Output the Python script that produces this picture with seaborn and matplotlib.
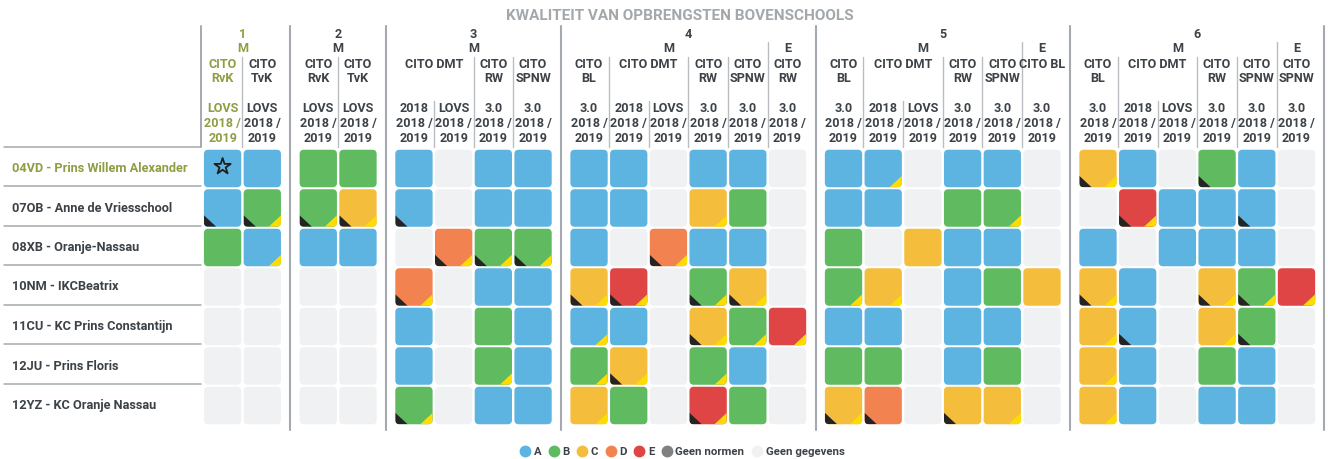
import matplotlib
matplotlib.use("Agg")
import matplotlib.pyplot as plt
import seaborn as sns
import pandas as pd
from matplotlib.patches import FancyBboxPatch, Polygon
from matplotlib.lines import Line2D

# ---------------- data ----------------
title = "KWALITEIT VAN OPBRENGSTEN BOVENSCHOOLS"
schools = ["04VD - Prins Willem Alexander", "07OB - Anne de Vriesschool", "08XB - Oranje-Nassau",
           "10NM - IKCBeatrix", "11CU - KC Prins Constantijn", "12JU - Prins Floris",
           "12YZ - KC Oranje Nassau"]

col_group = [1, 1, 2, 2, 3, 3, 3, 3, 4, 4, 4, 4, 4, 4, 5, 5, 5, 5, 5, 5, 6, 6, 6, 6, 6, 6]
col_level = ["M", "M", "M", "M", "M", "M", "M", "M", "M", "M", "M", "M", "M", "E",
             "M", "M", "M", "M", "M", "E", "M", "M", "M", "M", "M", "E"]
col_test = ["CITO\nRvK", "CITO\nTvK", "CITO\nRvK", "CITO\nTvK",
            "CITO DMT", "CITO DMT", "CITO\nRW", "CITO\nSPNW",
            "CITO\nBL", "CITO DMT", "CITO DMT", "CITO\nRW", "CITO\nSPNW", "CITO\nRW",
            "CITO\nBL", "CITO DMT", "CITO DMT", "CITO\nRW", "CITO\nSPNW", "CITO BL",
            "CITO\nBL", "CITO DMT", "CITO DMT", "CITO\nRW", "CITO\nSPNW", "CITO\nSPNW"]
col_version = ["LOVS", "LOVS", "LOVS", "LOVS", "2018", "LOVS", "3.0", "3.0",
               "3.0", "2018", "LOVS", "3.0", "3.0", "3.0",
               "3.0", "2018", "LOVS", "3.0", "3.0", "3.0",
               "3.0", "2018", "LOVS", "3.0", "3.0", "3.0"]
period = "2018 /\n2019"

# score code per cell: letter (A-E) or '-' = geen gegevens; 'k' = black corner, 'y' = yellow corner, '*' = star
scores = [
    ["A*", "A", "B", "B", "A", "-", "A", "A", "A", "A", "-", "A", "A", "-",
     "A", "Ay", "-", "A", "A", "-", "Cky", "A", "-", "Bk", "A", "-"],
    ["Ak", "Bky", "Bky", "Cky", "Ak", "-", "A", "A", "A", "A", "-", "Cy", "B", "-",
     "A", "A", "-", "B", "By", "-", "-", "Eky", "A", "A", "Ak", "-"],
    ["B", "Ay", "A", "A", "-", "Dky", "Bky", "Bky", "A", "-", "Dky", "A", "A", "-",
     "B", "-", "C", "A", "A", "-", "A", "-", "A", "A", "A", "-"],
    ["-", "-", "-", "-", "Dky", "-", "A", "A", "Cky", "Eky", "-", "Bky", "Cky", "-",
     "By", "Cy", "-", "A", "B", "C", "Cky", "A", "-", "Cky", "Bky", "Ey"],
    ["-", "-", "-", "-", "A", "-", "B", "A", "Ay", "A", "-", "Cky", "By", "Ey",
     "A", "A", "-", "A", "A", "-", "Cy", "Ak", "-", "Cy", "Bk", "-"],
    ["-", "-", "-", "-", "A", "-", "By", "A", "By", "Cky", "-", "By", "A", "-",
     "B", "B", "-", "A", "B", "-", "Cy", "A", "-", "B", "A", "-"],
    ["-", "-", "-", "-", "Bky", "-", "A", "A", "Cy", "B", "-", "Eky", "B", "-",
     "Cky", "Dk", "-", "Ck", "Cy", "-", "Cy", "A", "-", "A", "A", "-"],
]

legend_labels = ["A", "B", "C", "D", "E", "Geen normen", "Geen gegevens"]
legend_keys = ["A", "B", "C", "D", "E", "N", "-"]

# ---------------- styling ----------------
palette = {"A": "#5db4e0", "B": "#5fba60", "C": "#f4be3c", "D": "#f28350",
           "E": "#e04545", "N": "#808080", "-": "#f0f1f3"}
dark = "#3c4247"
olive = "#8e9e42"
sep_col = "#a3a9ae"
sub_col = "#b9bdc1"

sns.set_theme(style="white")
plt.rcParams["font.family"] = ["Roboto", "DejaVu Sans"]

W, H = 1328, 459
fig = plt.figure(figsize=(W / 100, H / 100), dpi=100)
ax = fig.add_axes([0, 0, 1, 1])

# pixel <-> data mapping (layout)
PX0, PXS = 222.6, 39.7
PY0, PYS = 168.5, 39.5
def px2x(p):
    return 0.5 + (p - PX0) / PXS
def py2y(p):
    return 0.5 + (p - PY0) / PYS

ax.set_xlim(px2x(0), px2x(W))
ax.set_ylim(py2y(H), py2y(0))
ax.axis("off")

GAP = 0.41
groups_order = sorted(set(col_group))
xl = [c + GAP * groups_order.index(g) for c, g in enumerate(col_group)]
ncol = len(col_group)

# ---------------- cells ----------------
CW, CH, RAD = 0.94, 0.95, 0.11
TX, TY = 0.31, 0.29
star_x, star_y = [], []
for r, row in enumerate(scores):
    for c, code in enumerate(row):
        x0 = xl[c] + (1 - CW) / 2
        y0 = r + (1 - CH) / 2
        patch = FancyBboxPatch((x0, y0), CW, CH,
                               boxstyle=f"round,pad=0,rounding_size={RAD}",
                               facecolor=palette[code[0]], edgecolor="none", zorder=2)
        ax.add_patch(patch)
        yb = y0 + CH
        if "k" in code:
            tri = Polygon([(x0, yb), (x0, yb - TY), (x0 + TX, yb)], closed=True,
                          facecolor="#242424", edgecolor="none", zorder=3)
            ax.add_patch(tri)
            tri.set_clip_path(patch)
        if "y" in code:
            tri = Polygon([(x0 + CW, yb), (x0 + CW, yb - TY), (x0 + CW - TX, yb)], closed=True,
                          facecolor="#fddc00", edgecolor="none", zorder=3)
            ax.add_patch(tri)
            tri.set_clip_path(patch)
        if "*" in code:
            star_x.append(xl[c] + 0.5)
            star_y.append(r + 0.45)

sns.scatterplot(x=star_x, y=star_y, marker="*", s=150, facecolor="none",
                edgecolor="#1e1e1e", linewidth=1.3, ax=ax, zorder=4, legend=False)

# ---------------- row labels ----------------
for r, name in enumerate(schools):
    ax.text(px2x(12), r + 0.5, name, ha="left", va="center", fontsize=9.2,
            fontweight="bold", color=olive if r == 0 else dark)
lx0, lx1 = px2x(4), px2x(201)
ax.plot([lx0, lx1], [py2y(147)] * 2, color=sep_col, lw=1.1)
for r in range(1, len(schools)):
    ax.plot([lx0, lx1], [r - 0.05] * 2, color=sep_col, lw=1.1)

# ---------------- header ----------------
def spans(keys):
    out = []
    start = 0
    for i in range(1, len(keys) + 1):
        if i == len(keys) or keys[i] != keys[start]:
            out.append((keys[start], start, i - 1))
            start = i
    return out

HFS = 9.1
def put_lines(text, xc, tops, color):
    for line, yp in zip(text.split("\n"), tops):
        ax.text(xc, py2y(yp), line, ha="center", va="center", fontsize=HFS,
                fontweight="bold", color=color)

ax.text(px2x(680), py2y(16), title, ha="center", va="center", fontsize=11,
        fontweight="bold", color="#a3a8ac")

lvl1 = spans(col_group)
lvl2 = spans(list(zip(col_group, col_level)))
lvl3 = spans(list(zip(col_group, col_level, col_test)))
for key, s, e in lvl1:
    xc = (xl[s] + xl[e] + 1) / 2
    put_lines(str(key), xc, [34], olive if s == 0 else dark)
for key, s, e in lvl2:
    xc = (xl[s] + xl[e] + 1) / 2
    put_lines(key[1], xc, [49], olive if s == 0 else dark)
for key, s, e in lvl3:
    xc = (xl[s] + xl[e] + 1) / 2
    put_lines(key[2], xc, [64, 79], olive if s == 0 else dark)
for c in range(ncol):
    put_lines(col_version[c] + "\n" + period, xl[c] + 0.5, [109, 124, 139],
              olive if c == 0 else dark)

# vertical separators
ybot_h = py2y(147)
ax.plot([px2x(201)] * 2, [py2y(26), ybot_h], color=sep_col, lw=1.4)
for c in range(1, ncol):
    if col_group[c] != col_group[c - 1]:
        xs = xl[c] - GAP / 2
        ax.plot([xs, xs], [py2y(26), py2y(430)], color=sep_col, lw=1.5)
    else:
        if col_level[c] != col_level[c - 1]:
            top = 42
        elif col_test[c] != col_test[c - 1]:
            top = 57
        else:
            top = 101
        ax.plot([xl[c]] * 2, [py2y(top), ybot_h], color=sub_col, lw=1.0)
xr = xl[-1] + 1 + GAP / 2
ax.plot([xr, xr], [py2y(26), py2y(430)], color=sep_col, lw=1.5)

# ---------------- legend ----------------
handles = [Line2D([], [], marker="o", linestyle="", markersize=7.5,
                  markerfacecolor=palette[k], markeredgecolor=palette[k], label=l)
           for k, l in zip(legend_keys, legend_labels)]
leg = fig.legend(handles=handles, loc="center", bbox_to_anchor=(682 / W, 1 - 452 / H),
                 ncol=len(handles), frameon=False, handletextpad=0.25, columnspacing=0.6,
                 handlelength=1.0, borderpad=0,
                 prop={"family": ["Roboto", "DejaVu Sans"], "weight": "bold", "size": 8.2})
for t in leg.get_texts():
    t.set_color(dark)

fig.savefig("out.png", dpi=100)
